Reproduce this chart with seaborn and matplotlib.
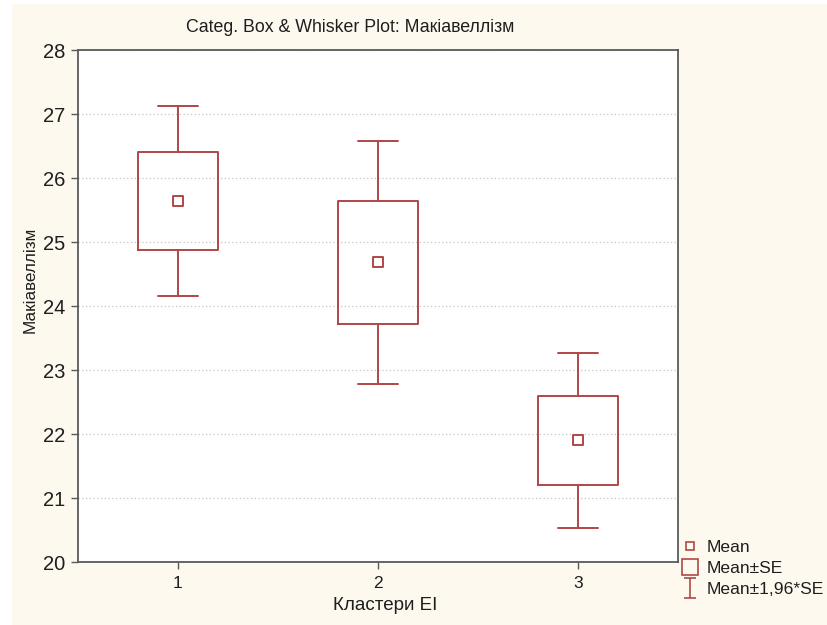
import numpy as np
import pandas as pd
import matplotlib
matplotlib.use("Agg")
import matplotlib.pyplot as plt
from matplotlib.path import Path
from matplotlib.lines import Line2D
from matplotlib.patches import Rectangle
import seaborn as sns

# ---- data ----
clusters = ["1", "2", "3"]
means = [25.64, 24.68, 21.90]
se = [0.76, 0.965, 0.695]
se_factor = 1.96
y_ticks = [20, 21, 22, 23, 24, 25, 26, 27, 28]

title = "Categ. Box & Whisker Plot: Макіавеллізм"
xlabel = "Кластери EI"
ylabel = "Макіавеллізм"
legend_labels = ["Mean", "Mean±SE", "Mean±1,96*SE"]

# ---- style ----
sns.set_theme(style="white")
plt.rcParams["font.family"] = ["Liberation Sans", "DejaVu Sans"]

RED = "#b04848"
CREAM = "#fef9ef"
TXT = "#1e1e1e"

fig = plt.figure(figsize=(8.27, 6.25), dpi=100, facecolor="white")
fig.patches.append(Rectangle((12 / 827, 0), 1 - 12 / 827, 1 - 4 / 625,
                             transform=fig.transFigure, facecolor=CREAM,
                             edgecolor="none", zorder=-10))
ax = fig.add_axes([78 / 827, 1 - 562 / 625, 600 / 827, 512 / 625])
ax.set_facecolor("white")

df = pd.DataFrame({"cluster": clusters, "mean": means, "se": se})
df["pos"] = np.arange(1, len(df) + 1)

stats = []
for _, r in df.iterrows():
    stats.append({
        "med": r["mean"],
        "q1": r["mean"] - r["se"],
        "q3": r["mean"] + r["se"],
        "whislo": r["mean"] - se_factor * r["se"],
        "whishi": r["mean"] + se_factor * r["se"],
        "fliers": [],
        "label": r["cluster"],
    })

ax.bxp(stats, positions=df["pos"], widths=0.4, showfliers=False,
       boxprops=dict(color=RED, linewidth=1.4),
       whiskerprops=dict(color=RED, linewidth=1.4),
       capprops=dict(color=RED, linewidth=1.4),
       medianprops=dict(linestyle="none"),
       manage_ticks=False, zorder=3)

sns.scatterplot(data=df, x="pos", y="mean", marker="s", s=42,
                facecolor="white", edgecolor=RED, linewidth=1.4,
                ax=ax, zorder=4, legend=False)

ax.set_xlabel("")
ax.set_ylabel("")
ax.set_xlim(0.5, 3.5)
ax.set_ylim(20, 28)
ax.set_xticks(df["pos"])
ax.set_xticklabels(clusters)
ax.set_yticks(y_ticks)
ax.set_yticklabels([str(t) for t in y_ticks])
ax.yaxis.grid(True, linestyle=(0, (1, 2)), color="#c4c4c4", linewidth=0.9)
ax.xaxis.grid(False)
ax.set_axisbelow(True)

for s in ax.spines.values():
    s.set_visible(True)
    s.set_color("#5a5a5a")
    s.set_linewidth(1.3)

ax.tick_params(axis="y", which="major", direction="out", length=5,
               width=1, color="#5a5a5a", labelsize=14.5, labelcolor=TXT,
               left=True, pad=4)
ax.tick_params(axis="x", which="major", direction="out", length=5,
               width=1, color="#5a5a5a", labelsize=12.5, labelcolor=TXT,
               bottom=True, pad=5)

fig.text(385 / 827, 1 - 606 / 625, xlabel, fontsize=13.5, color=TXT,
         ha="center", va="center")
fig.text(30 / 827, 1 - 280 / 625, ylabel, fontsize=12.3, color=TXT,
         ha="center", va="center", rotation=90)
fig.text(350 / 827, 1 - 27 / 625, title, fontsize=12.8, color=TXT,
         ha="center", va="center")

# legend handles
ibeam = Path([(-0.6, 1), (0.6, 1), (0, 1), (0, -1), (-0.6, -1), (0.6, -1)],
             [Path.MOVETO, Path.LINETO, Path.MOVETO, Path.LINETO,
              Path.MOVETO, Path.LINETO])
handles = [
    Line2D([], [], linestyle="none", marker="s", markersize=6,
           markerfacecolor="none", markeredgecolor=RED, markeredgewidth=1.2),
    Line2D([], [], linestyle="none", marker="s", markersize=11,
           markerfacecolor="none", markeredgecolor=RED, markeredgewidth=1.2),
    Line2D([], [], linestyle="none", marker=ibeam, markersize=14,
           markerfacecolor="none", markeredgecolor=RED, markeredgewidth=1.2),
]
fig.legend(handles, legend_labels, loc="lower left",
           bbox_to_anchor=(669 / 827, 1 - 609 / 625), frameon=False,
           fontsize=12.6, handlelength=1.0, handletextpad=0.45,
           labelspacing=0.33, borderpad=0.2, labelcolor=TXT)

fig.savefig("out.png", dpi=100, facecolor=fig.get_facecolor())
